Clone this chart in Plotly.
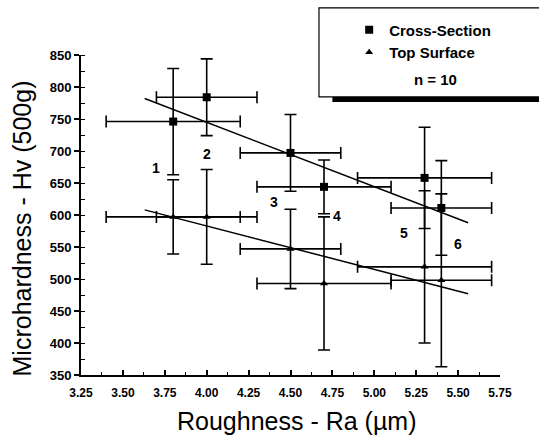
import plotly.graph_objects as go

# sample roughness (Ra, um) and its spread
ra = [3.80, 4.00, 4.50, 4.70, 5.30, 5.40]
ra_err = [0.4, 0.3, 0.3, 0.4, 0.4, 0.3]

# microhardness Hv (500g)
cross_hv = [746, 784, 697, 644, 658, 611]
cross_err = [83, 60, 60, 42, 79, 74]
top_hv = [597, 597, 547, 493, 519, 498]
top_err = [58, 74, 62, 104, 119, 135]

# linear fits as drawn
fit_x = [3.63, 5.56]
cross_fit = [782, 588]
top_fit = [608, 477]

# sample numbers and where they sit
sample_ids = ['1', '2', '3', '4', '5', '6']
id_x = [3.70, 4.00, 4.40, 4.78, 5.18, 5.50]
id_y = [673, 696, 620, 599, 572, 554]

BLACK = 'rgb(0,0,0)'
FONT = 'Liberation Sans, Arial, sans-serif'

fig = go.Figure()

for fy in [cross_fit, top_fit]:
    fig.add_trace(go.Scatter(x=fit_x, y=fy, mode='lines',
                             line=dict(color=BLACK, width=1.5),
                             showlegend=False, hoverinfo='skip'))

def add_series(y, yerr, symbol, size, name):
    fig.add_trace(go.Scatter(
        x=ra, y=y, mode='markers', name=name,
        marker=dict(symbol=symbol, size=size, color=BLACK),
        error_x=dict(type='data', array=ra_err, color=BLACK, thickness=1.6, width=6),
        error_y=dict(type='data', array=yerr, color=BLACK, thickness=1.6, width=6),
    ))

add_series(cross_hv, cross_err, 'square', 8, 'Cross-Section')
add_series(top_hv, top_err, 'triangle-up', 7, 'Top Surface')

for t, xx, yy in zip(sample_ids, id_x, id_y):
    fig.add_annotation(x=xx, y=yy, text='<b>' + t + '</b>', showarrow=False,
                       font=dict(family=FONT, size=14, color=BLACK))

# legend frame with shadow (plot area: x 81..500 px, y 55..375 px); runs off the right edge
fig.add_shape(type='rect', xref='paper', yref='paper', x0=0.60, x1=1.3, y0=0.853, y1=0.869,
              fillcolor=BLACK, line=dict(width=0), layer='above')
fig.add_shape(type='rect', xref='paper', yref='paper', x0=0.568, x1=1.3, y0=0.869, y1=1.147,
              fillcolor='white', line=dict(color=BLACK, width=1.2), layer='below')
fig.add_annotation(xref='paper', yref='paper', x=0.79, y=0.922, text='<b>n = 10</b>',
                   showarrow=False, xanchor='left', yanchor='middle',
                   font=dict(family=FONT, size=15, color=BLACK))

# axis titles placed by hand, as in the original
fig.add_annotation(xref='paper', yref='paper', x=0.515, y=-0.144, text='Roughness - Ra (\u00b5m)',
                   showarrow=False, xanchor='center', yanchor='middle',
                   font=dict(family=FONT, size=25, color=BLACK))
fig.add_annotation(xref='paper', yref='paper', x=-0.14, y=0.459, text='Microhardness - Hv (500g)',
                   showarrow=False, textangle=-90, xanchor='center', yanchor='middle',
                   font=dict(family=FONT, size=25, color=BLACK))

fig.update_layout(
    width=539, height=436,
    margin=dict(l=81, r=39, t=55, b=61, autoexpand=False),
    paper_bgcolor='white', plot_bgcolor='white',
    font=dict(family=FONT, color=BLACK),
    legend=dict(x=0.64, y=1.13, xanchor='left', yanchor='top', bgcolor='rgba(0,0,0,0)',
                font=dict(family=FONT, size=15, color=BLACK, weight='bold'),
                itemwidth=30, tracegroupgap=0, borderwidth=0),
    xaxis=dict(range=[3.25, 5.75], tick0=3.25, dtick=0.25, tickformat='.2f', automargin=False,
               showgrid=False, zeroline=False, showline=True, linecolor=BLACK, linewidth=2,
               ticks='inside', ticklen=5, tickwidth=1.5, tickcolor=BLACK,
               ticklabelstandoff=6,
               tickfont=dict(family=FONT, size=12, color=BLACK, weight='bold'),
               minor=dict(ticks='inside', ticklen=3, tickwidth=1.2, tickcolor=BLACK, dtick=0.125)),
    yaxis=dict(range=[350, 850], tick0=350, dtick=50, automargin=False,
               showgrid=False, zeroline=False, showline=True, linecolor=BLACK, linewidth=2,
               ticks='outside', ticklen=5, tickwidth=1.5, tickcolor=BLACK,
               tickfont=dict(family=FONT, size=13, color=BLACK, weight='bold'),
               minor=dict(ticks='inside', ticklen=4, tickwidth=1.2, tickcolor=BLACK, dtick=25)),
)

# drop the default page margin so the figure sits at the window's corner
fig.write_html("out.html", config={'displayModeBar': False},
               post_script="document.body.style.margin='0';")
